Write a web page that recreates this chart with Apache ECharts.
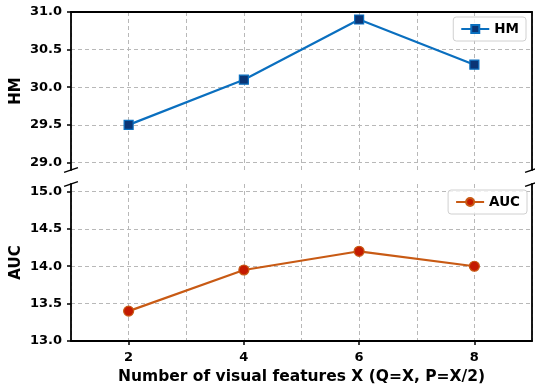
<!DOCTYPE html>
<html>
<head>
<meta charset="utf-8">
<script src="https://cdn.jsdelivr.net/npm/echarts@6/dist/echarts.min.js"></script>
<style>
  html, body { margin: 0; padding: 0; background: #fff; }
  #chart { width: 535px; height: 388px; }
</style>
</head>
<body>
<div id="chart"></div>
<script>
// Feature counts on the shared x axis
const featureCounts = [2, 4, 6, 8];
const xTickLabels = [2, 4, 6, 8];
// Metric values per feature count
const hmValues = [29.5, 30.1, 30.9, 30.3];
const aucValues = [13.4, 13.95, 14.2, 14.0];
// Tick labels of the two panels
const hmTicks = [29.0, 29.5, 30.0, 30.5, 31.0];
const aucTicks = [13.0, 13.5, 14.0, 14.5, 15.0];

const FONT = 'DejaVu Sans';
const gridLeft = 71, gridRight = 3;
const topGrid = { top: 12, height: 158 };
const botGrid = { top: 184, height: 157 };

const chart = echarts.init(document.getElementById('chart'), null, { renderer: 'canvas' });

const dashed = { show: true, lineStyle: { color: '#b8b8b8', width: 1, type: [4, 3] } };
const spine = { show: true, onZero: false, lineStyle: { color: '#000', width: 1.8 } };
const tickLabel = { fontFamily: FONT, fontWeight: 'bold', fontSize: 13, color: '#000' };
const titleStyle = { fontFamily: FONT, fontWeight: 'bold', fontSize: 15, color: '#000' };

function pairs(xs, ys) { return xs.map((x, i) => [x, ys[i]]); }

const option = {
  animation: false,
  backgroundColor: '#fff',
  grid: [
    { left: gridLeft, right: gridRight, top: topGrid.top, height: topGrid.height,
      containLabel: false, outerBoundsMode: 'none' },
    { left: gridLeft, right: gridRight, top: botGrid.top, height: botGrid.height,
      containLabel: false, outerBoundsMode: 'none' }
  ],
  xAxis: [
    // top panel: frame along the top edge
    { type: 'value', gridIndex: 0, min: 1, max: 9, interval: 1, position: 'top',
      axisLine: spine, axisTick: { show: false }, axisLabel: { show: false }, splitLine: dashed },
    // bottom panel: labelled axis
    { type: 'value', gridIndex: 1, min: 1, max: 9, interval: 1, position: 'bottom',
      axisLine: spine,
      axisTick: { show: true, length: 4, lineStyle: { color: '#000', width: 1.5 }, customValues: xTickLabels },
      axisLabel: Object.assign({ margin: 10, customValues: xTickLabels }, tickLabel),
      splitLine: { show: false },
      name: 'Number of visual features X (Q=X, P=X/2)', nameLocation: 'middle', nameGap: 28,
      nameMoveOverlap: false,
      nameTextStyle: Object.assign({}, titleStyle, { fontSize: 15.5 }) },
    // bottom panel: integer grid lines
    { type: 'value', gridIndex: 1, min: 1, max: 9, interval: 1, position: 'bottom',
      axisLine: { show: false }, axisTick: { show: false }, axisLabel: { show: false }, splitLine: dashed }
  ],
  yAxis: [
    { type: 'value', gridIndex: 0, min: 28.9, max: 31.0, interval: 0.1,
      axisLine: spine,
      axisTick: { show: true, length: 4, lineStyle: { color: '#000', width: 1.5 }, customValues: hmTicks },
      axisLabel: Object.assign({ margin: 9, customValues: hmTicks, formatter: v => v.toFixed(1) }, tickLabel),
      splitLine: dashed,
      name: 'HM', nameLocation: 'middle', nameGap: 47, nameMoveOverlap: false, nameTextStyle: titleStyle },
    { type: 'value', gridIndex: 0, min: 28.9, max: 31.0, position: 'right',
      axisLine: spine, axisTick: { show: false }, axisLabel: { show: false }, splitLine: { show: false } },
    { type: 'value', gridIndex: 1, min: 13.0, max: 15.1, interval: 0.1,
      axisLine: spine,
      axisTick: { show: true, length: 4, lineStyle: { color: '#000', width: 1.5 }, customValues: aucTicks },
      axisLabel: Object.assign({ margin: 9, customValues: aucTicks, formatter: v => v.toFixed(1) }, tickLabel),
      splitLine: dashed,
      name: 'AUC', nameLocation: 'middle', nameGap: 47, nameMoveOverlap: false, nameTextStyle: titleStyle },
    { type: 'value', gridIndex: 1, min: 13.0, max: 15.1, position: 'right',
      axisLine: spine, axisTick: { show: false }, axisLabel: { show: false }, splitLine: { show: false } }
  ],
  legend: [
    { data: ['HM'], right: 9, top: 17, orient: 'horizontal',
      backgroundColor: 'rgba(255,255,255,0.8)', borderColor: '#d0d0d0', borderWidth: 1, borderRadius: 3,
      padding: [5, 7], itemWidth: 28, itemHeight: 10, itemGap: 5,
      textStyle: { fontFamily: FONT, fontWeight: 'bold', fontSize: 13.5, color: '#000' } },
    { data: ['AUC'], right: 8, top: 190, orient: 'horizontal',
      backgroundColor: 'rgba(255,255,255,0.8)', borderColor: '#d0d0d0', borderWidth: 1, borderRadius: 3,
      padding: [5, 7], itemWidth: 28, itemHeight: 10, itemGap: 5,
      textStyle: { fontFamily: FONT, fontWeight: 'bold', fontSize: 13.5, color: '#000' } }
  ],
  series: [
    { name: 'HM', type: 'line', xAxisIndex: 0, yAxisIndex: 0, data: pairs(featureCounts, hmValues),
      symbol: 'rect', symbolSize: 9,
      lineStyle: { color: '#0a6fbf', width: 2.2 },
      itemStyle: { color: '#0b3575', borderColor: '#0a6fbf', borderWidth: 1.2 }, z: 5 },
    { name: 'AUC', type: 'line', xAxisIndex: 1, yAxisIndex: 2, data: pairs(featureCounts, aucValues),
      symbol: 'circle', symbolSize: 10,
      lineStyle: { color: '#c85a14', width: 2.2 },
      itemStyle: { color: '#c41a00', borderColor: '#c85a14', borderWidth: 1.2 }, z: 5 }
  ]
};

chart.setOption(option);

// Diagonal break marks where the two panels meet
function breakMarks() {
  const W = 535 - gridLeft - gridRight;
  const dx = 0.015 * W;
  const lines = [];
  const topBottomY = topGrid.top + topGrid.height;
  const botTopY = botGrid.top;
  const dyT = 0.015 * topGrid.height, dyB = 0.015 * botGrid.height;
  [gridLeft, 535 - gridRight].forEach(x => {
    lines.push([x - dx, topBottomY + dyT, x + dx, topBottomY - dyT]);
    lines.push([x - dx, botTopY + dyB, x + dx, botTopY - dyB]);
  });
  return lines.map(l => ({
    type: 'line', z: 100,
    shape: { x1: l[0], y1: l[1], x2: l[2], y2: l[3] },
    style: { stroke: '#000', lineWidth: 1.5 }
  }));
}
chart.setOption({ graphic: breakMarks() });
</script>
</body>
</html>
